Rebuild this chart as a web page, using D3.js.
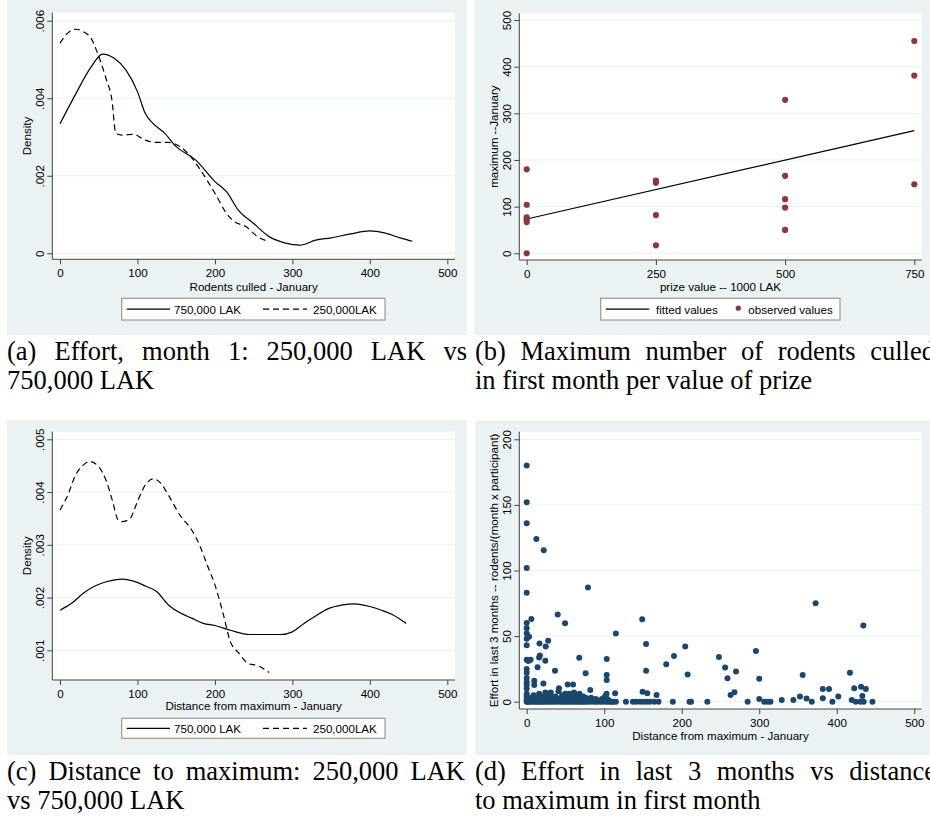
<!DOCTYPE html>
<html>
<head>
<meta charset="utf-8">
<script src="https://cdn.jsdelivr.net/npm/d3@7"></script>
<style>
body { margin: 0; background: #fff; }
svg { display: block; }
</style>
</head>
<body>
<svg id="chart" width="930" height="820"></svg>
<script>
// ---- data ----
const rodentTicks = [0, 100, 200, 300, 400, 500];
const effortDensityTicks = [0, .002, .004, .006];
const distDensityTicks = [.001, .002, .003, .004, .005];
const prizeTicks = [0, 250, 500, 750];
const maxTicks = [0, 100, 200, 300, 400, 500];
const effortTicks = [0, 50, 100, 150, 200];
const seriesNames = ["750,000 LAK", "250,000LAK"];

// (a) kernel density of rodents culled in January
const effort750 = [[0,.00334],[20,.0041],[40,.0048],[55,.00514],[70,.00503],[85,.00473],[100,.00417],
  [110,.00361],[120,.00335],[135,.0031],[150,.00275],[175,.00241],[200,.00185],[215,.00159],[230,.00112],
  [250,.00077],[270,.00043],[290,.00027],[310,.00021],[330,.00034],[350,.0004],[375,.0005],[400,.00058],
  [420,.00052],[440,.00039],[455,.00031]];
const effort250 = [[0,.00542],[10,.00568],[20,.00578],[30,.00572],[40,.00555],[50,.00508],[60,.00447],
  [67,.00396],[72,.0031],[80,.00305],[95,.00307],[110,.00292],[125,.00286],[140,.00286],[155,.00275],
  [165,.00258],[180,.00219],[200,.00155],[215,.00103],[225,.00082],[240,.00069],[255,.00043],[270,.0003]];

// (b) maximum culled per prize value
const prizeObserved = [[0,180],[0,104],[0,77],[0,72],[0,67],[0,0],
  [250,156],[250,151],[250,82],[250,17],
  [500,329],[500,166],[500,116],[500,98],[500,50],
  [750,455],[750,381],[750,148]];
const prizeFitted = [[0,73.5],[750,263]];

// (c) kernel density of distance from maximum
const dist750 = [[0,.00176],[15,.00189],[30,.00208],[45,.00222],[60,.0023],[80,.00235],[95,.00231],
  [110,.00222],[125,.00211],[140,.00186],[155,.00171],[170,.00161],[185,.00151],[200,.00147],[220,.00138],
  [245,.0013],[265,.0013],[285,.0013],[300,.00135],[315,.00151],[330,.00165],[345,.00178],[365,.00186],
  [380,.00188],[400,.00183],[415,.00176],[430,.00167],[447,.00151]];
const dist250 = [[0,.00366],[10,.00394],[20,.00432],[30,.00451],[38,.00458],[50,.00448],[60,.0042],
  [68,.00382],[75,.00347],[80,.00344],[90,.00349],[100,.00382],[110,.00413],[120,.00425],[130,.00417],
  [140,.00394],[155,.00356],[170,.00328],[180,.003],[190,.00262],[200,.00224],[210,.00173],[220,.00116],
  [230,.00096],[243,.00075],[255,.00071],[270,.00058]];

// (d) effort in last 3 months vs distance from maximum
const distEffort = [
  [0,180],[0,152],[0,136],[0,102],[0,83],[0,60],[0,56],[0,52],[0,48],[0,43],[6,63],[3,49.5],
  [0,32],[2,31],[5,32],[0,25],[0,22],[0,18],[0,15],[0,13],[0,10],[0,6],[0,4],
  [12.5,124],[22,115.5],[79,87],[40,66.5],[49.5,59.7],[115,52],[149,62.8],[154,44],[154,23.6],
  [204.5,42],[190,34.8],[180,28.5],[207.6,20.8],[248,34],[256,26],[259,17.8],[270,23],
  [295.7,38.6],[300,17.4],[372.7,75],[434.3,58],[356,20.3],[417,22.1],
  [16.5,44.3],[24.5,42],[27.7,46.4],[17,35.3],[16,33.6],[24,31.3],[14,26.2],[36.5,23.6],[67.8,33.5],
  [76,21.6],[103.2,32.5],[103.2,20.3],[103.2,16.5],[9.7,16],[9.7,12.7],[21.5,13.8],[52.8,13.2],
  [59.8,13.2],[41.7,10.2],[82,8.9],[114,6.4],[149.5,7.6],[155.5,6.4],[167.5,5.1],[263,5.1],[268,7.2],
  [382,9.6],[390,9.6],[382,2.7],[402,4],[422.5,10.2],[431.3,11.4],[437.5,9.7],[433,4.4],[352.5,4],
  [361,2.5],[300,2],[329,1.3],[344,1.3],[419.3,1.3],
  [128,0],[137,0],[141,0],[146,0],[150.5,0],[155,0],[159,0],[164.5,0],[170,0],[188.5,0],[210,0],
  [212,0],[233,0],[285,0],[306.5,0],[311,0],[314.5,0],[367.7,0],[394.3,0],[424.5,0],[430.5,0],
  [434.8,0],[446,0],
  [0,0],[0,1],[0,2],[1,0],[2,1],[3,0],[4,2],[5,0],[6,3],[7,1],[8,0],[9,5],[10,1],[11,0],[12,3],
  [13,0],[14,2],[15,0],[16,6],[17,1],[18,0],[19,3],[20,0],[21,1],[22,4],[23,0],[24,7],[25,2],[26,0],
  [27,1],[28,5],[29,0],[30,2],[31,7],[32,0],[33,1],[34,3],[35,0],[36,1],[37,4],[38,0],[40,2],[41,8],
  [42,0],[43,1],[44,3],[45,0],[46,5],[47,1],[48,0],[49,2],[50,6],[51,0],[52,1],[53,3],[54,0],[55,6],
  [56,2],[57,0],[58,1],[59,4],[60,0],[61,7],[62,2],[63,0],[64,5],[65,1],[66,0],[67,3],[68,6],[69,0],
  [70,2],[71,1],[72,0],[73,4],[74,0],[75,1],[76,3],[77,0],[78,2],[80,0],[81,1],[83,3],[84,0],[86,1],
  [88,0],[89,2],[91,0],[93,1],[95,0],[97,2],[98,0],[100,1],[101,4],[102,0],[103,6],[104,2],[105,0],
  [106,1],[108,0],[110,0],[112,0],[115,0]];

// ---- style ----
const FONT = '"Liberation Sans", Arial, sans-serif';
const SERIF = '"Liberation Serif", "Times New Roman", serif';
const BG = '#eaf2f3', AXIS = '#444', GRID = '#eaf2f3';
const FS = 11.6;

const svg = d3.select('#chart');
svg.append('rect').attr('width', 930).attr('height', 820).attr('fill', '#fff');

const densFmt = d => d === 0 ? '0' : d3.format('.3f')(d).replace(/^0/, '');

function panel(p) {
  const g = svg.append('g');
  g.append('rect').attr('x', p.bg[0]).attr('y', p.bg[1])
    .attr('width', p.bg[2] - p.bg[0]).attr('height', p.bg[3] - p.bg[1]).attr('fill', BG);
  g.append('rect').attr('x', p.plot[0]).attr('y', p.plot[1])
    .attr('width', p.plot[2] - p.plot[0]).attr('height', p.plot[3] - p.plot[1]).attr('fill', '#fff');

  const x = d3.scaleLinear().domain(p.xd).range(p.xr);
  const y = d3.scaleLinear().domain(p.yd).range(p.yr);

  g.append('g').selectAll('line').data(p.yt).join('line')
    .attr('x1', p.plot[0]).attr('x2', p.plot[2])
    .attr('y1', d => y(d)).attr('y2', d => y(d))
    .attr('stroke', GRID).attr('stroke-width', 1);

  const ax = g.append('g').attr('transform', `translate(0,${p.plot[3]})`)
    .call(d3.axisBottom(x).tickValues(p.xt).tickSize(5).tickSizeOuter(0));
  ax.select('.domain').remove();
  ax.attr('font-family', FONT).attr('font-size', FS);
  ax.selectAll('line').attr('stroke', AXIS);
  ax.selectAll('text').attr('y', 14).attr('dy', '0.35em').attr('fill', '#000');

  const ay = g.append('g').attr('transform', `translate(${p.plot[0]},0)`)
    .call(d3.axisLeft(y).tickValues(p.yt).tickSize(5).tickSizeOuter(0).tickFormat(p.yf || d3.format('d')));
  ay.select('.domain').remove();
  ay.attr('font-family', FONT).attr('font-size', FS);
  ay.selectAll('line').attr('stroke', AXIS);
  ay.selectAll('text').attr('x', 0).attr('dy', null).attr('y', -12.8)
    .attr('transform', 'rotate(-90)').attr('text-anchor', 'middle')
    .attr('dominant-baseline', 'central').attr('fill', '#000');

  g.append('path').attr('fill', 'none').attr('stroke', AXIS).attr('stroke-width', 1)
    .attr('d', `M${p.plot[0]},${p.plot[1]}V${p.plot[3]}H${p.plot[2]}`);

  g.append('text').attr('x', (p.plot[0] + p.plot[2]) / 2).attr('y', p.xTitleY)
    .attr('text-anchor', 'middle').attr('dominant-baseline', 'central')
    .attr('font-family', FONT).attr('font-size', FS).text(p.xTitle);
  g.append('text')
    .attr('transform', `translate(${p.yTitleX},${(p.plot[1] + p.plot[3]) / 2}) rotate(-90)`)
    .attr('text-anchor', 'middle').attr('dominant-baseline', 'central')
    .attr('font-family', FONT).attr('font-size', FS).text(p.yTitle);

  return {g, x, y};
}

function legendBox(g, box) {
  g.append('rect').attr('x', box[0]).attr('y', box[1])
    .attr('width', box[2] - box[0]).attr('height', box[3] - box[1])
    .attr('fill', '#fff').attr('stroke', '#999').attr('stroke-width', 1.2);
}

function densityPanel(p, solid, dashed) {
  const {g, x, y} = panel(p);
  const line = d3.line().x(d => x(d[0])).y(d => y(d[1])).curve(d3.curveMonotoneX);
  g.append('path').datum(solid).attr('d', line)
    .attr('fill', 'none').attr('stroke', '#000').attr('stroke-width', 1.2);
  g.append('path').datum(dashed).attr('d', line)
    .attr('fill', 'none').attr('stroke', '#000').attr('stroke-width', 1.2).attr('stroke-dasharray', '6,4');

  const lb = p.legend, cy = (lb[1] + lb[3]) / 2;
  legendBox(g, lb);
  g.append('line').attr('x1', 126.7).attr('x2', 170).attr('y1', cy).attr('y2', cy)
    .attr('stroke', '#000').attr('stroke-width', 1.2);
  g.append('line').attr('x1', 263).attr('x2', 307).attr('y1', cy).attr('y2', cy)
    .attr('stroke', '#000').attr('stroke-width', 1.2).attr('stroke-dasharray', '6,4');
  g.selectAll('.lt').data(seriesNames).join('text')
    .attr('x', (d, i) => i ? 313 : 174).attr('y', cy).attr('dominant-baseline', 'central')
    .attr('font-family', FONT).attr('font-size', FS).text(d => d);
}

// (a)
densityPanel({
  bg: [7, 0, 467, 335], plot: [52.3, 12.7, 455, 259.3],
  xd: [0, 500], xr: [60, 447.3], yd: [0, .006], yr: [253.3, 20.7],
  xt: rodentTicks, yt: effortDensityTicks, yf: densFmt,
  xTitle: 'Rodents culled - January', xTitleY: 286,
  yTitle: 'Density', yTitleX: 26, legend: [121.7, 298.3, 385, 320]
}, effort750, effort250);

// (c)
densityPanel({
  bg: [7, 420, 467, 755], plot: [52.3, 431.7, 455, 680],
  xd: [0, 500], xr: [60, 447.3], yd: [.001, .005], yr: [650.3, 439.3],
  xt: rodentTicks, yt: distDensityTicks, yf: densFmt,
  xTitle: 'Distance from maximum - January', xTitleY: 705,
  yTitle: 'Density', yTitleX: 26, legend: [121.7, 718.3, 385, 738.3]
}, dist750, dist250);

// (b)
(function() {
  const {g, x, y} = panel({
    bg: [474, 0, 930, 335], plot: [519.3, 13.3, 921.7, 260],
    xd: [0, 750], xr: [526.7, 914.3], yd: [0, 500], yr: [253.3, 20],
    xt: prizeTicks, yt: maxTicks,
    xTitle: 'prize value -- 1000 LAK', xTitleY: 286,
    yTitle: 'maximum --January', yTitleX: 493.3
  });
  g.append('path').datum(prizeFitted)
    .attr('d', d3.line().x(d => x(d[0])).y(d => y(d[1])))
    .attr('fill', 'none').attr('stroke', '#000').attr('stroke-width', 1.2);
  g.append('g').selectAll('circle').data(prizeObserved).join('circle')
    .attr('cx', d => x(d[0])).attr('cy', d => y(d[1])).attr('r', 3.1).attr('fill', '#90353b');

  const lb = [600.7, 298.3, 840, 320], cy = (lb[1] + lb[3]) / 2;
  legendBox(g, lb);
  g.append('line').attr('x1', 606).attr('x2', 649.3).attr('y1', cy).attr('y2', cy)
    .attr('stroke', '#000').attr('stroke-width', 1.2);
  g.append('circle').attr('cx', 738.3).attr('cy', cy - 1).attr('r', 2.6).attr('fill', '#90353b');
  g.selectAll('.lt').data(['fitted values', 'observed values']).join('text')
    .attr('x', (d, i) => i ? 748.3 : 656).attr('y', cy).attr('dominant-baseline', 'central')
    .attr('font-family', FONT).attr('font-size', FS).text(d => d);
})();

// (d)
(function() {
  const {g, x, y} = panel({
    bg: [475, 421, 930, 755], plot: [519.3, 431.7, 921.7, 709],
    xd: [0, 500], xr: [526.7, 914.3], yd: [0, 200], yr: [701.7, 439.3],
    xt: rodentTicks, yt: effortTicks,
    xTitle: 'Distance from maximum - January', xTitleY: 735,
    yTitle: 'Effort in last 3 months -- rodents/(month x participant)', yTitleX: 493.3
  });
  g.append('g').selectAll('circle').data(distEffort).join('circle')
    .attr('cx', d => x(d[0])).attr('cy', d => y(d[1])).attr('r', 3).attr('fill', '#1a476f');
})();

// ---- captions (LaTeX-style, first line justified) ----
function captionLine(text, x0, y, x1) {
  const t = svg.append('text').attr('y', y)
    .attr('font-family', SERIF).attr('font-size', 26.5).attr('fill', '#000');
  if (x1 == null) { t.attr('x', x0).text(text); return; }
  const words = text.split(' ');
  const spans = words.map(w => t.append('tspan').text(w));
  const widths = spans.map(s => s.node().getComputedTextLength());
  const gap = (x1 - x0 - d3.sum(widths)) / (words.length - 1);
  let cx = x0;
  spans.forEach((s, i) => { s.attr('x', cx); cx += widths[i] + gap; });
}

captionLine('(a) Effort, month 1: 250,000 LAK vs', 7, 360, 467);
captionLine('750,000 LAK', 7, 388.5);
captionLine('(b) Maximum number of rodents culled', 475, 360, 935);
captionLine('in first month per value of prize', 475, 388.5);
captionLine('(c) Distance to maximum: 250,000 LAK', 7, 780, 465);
captionLine('vs 750,000 LAK', 7, 808.5);
captionLine('(d) Effort in last 3 months vs distance', 475, 780, 936);
captionLine('to maximum in first month', 475, 808.5);
</script>
</body>
</html>
